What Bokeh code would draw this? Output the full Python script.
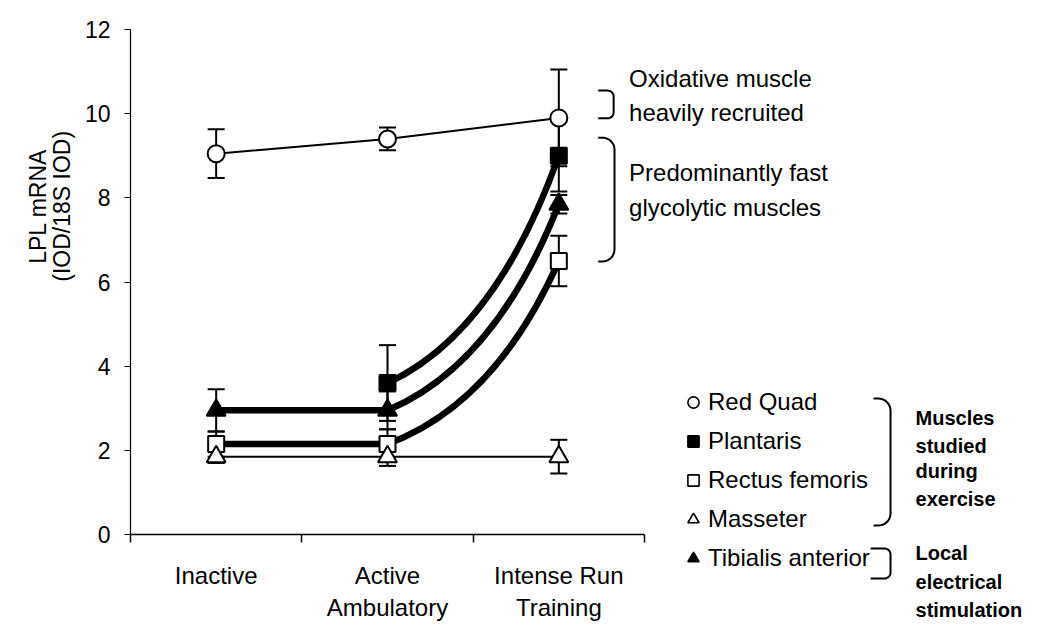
import numpy as np
from bokeh.plotting import figure
from bokeh.models import (Whisker, TeeHead, FixedTicker, Label, Legend,
                          LegendItem, Range1d, ColumnDataSource)
from bokeh.embed import file_html
from bokeh.resources import INLINE

# ---------------- data ----------------
categories = ["Inactive", "Active\nAmbulatory", "Intense Run\nTraining"]
cat_x = [0.5, 1.5, 2.5]

red_quad = [9.05, 9.40, 9.90]
red_quad_err = [0.58, 0.27, 1.15]
plantaris = [np.nan, 3.60, 9.00]
plantaris_err = [np.nan, 0.90, 0.85]
rectus = [2.15, 2.15, 6.50]
rectus_err = [0.30, 0.35, 0.60]
masseter = [1.85, 1.85, 1.85]
masseter_err = [0.15, 0.22, 0.40]
tibialis = [2.95, 2.95, 7.85]
tibialis_err = [0.50, 0.45, 0.22]

legend_names = ["Red Quad", "Plantaris", "Rectus femoris", "Masseter", "Tibialis anterior"]
y_ticks = [0, 2, 4, 6, 8, 10, 12]

# ---------------- figure ----------------
FONT = "Liberation Sans"
W, H = 1050, 637
PXX = 171.33          # pixels per category unit
PXY = 42.08           # pixels per y unit
ORIG_X, ORIG_Y = 130, 534   # pixel position of the data origin

x_range = Range1d(-ORIG_X / PXX, (W - ORIG_X) / PXX)
y_range = Range1d(-(H - ORIG_Y) / PXY, ORIG_Y / PXY)

p = figure(width=W, height=H, x_range=x_range, y_range=y_range,
           output_backend="svg", toolbar_location=None,
           min_border_left=0, min_border_right=0,
           min_border_top=0, min_border_bottom=0)
p.grid.visible = False
p.outline_line_color = None
p.background_fill_color = "white"

xa = p.xaxis[0]
xa.fixed_location = 0
xa.ticker = FixedTicker(ticks=cat_x, minor_ticks=[0, 1, 2, 3])
xa.major_label_overrides = {x: c for x, c in zip(cat_x, categories)}
xa.bounds = (0, 3)
xa.major_tick_out = 0
xa.major_tick_in = 0
xa.minor_tick_out = 8
xa.minor_tick_in = 0
xa.minor_tick_line_width = 1.5
xa.axis_line_width = 1.5
xa.axis_line_color = "black"
xa.minor_tick_line_color = "black"
xa.major_label_text_font = FONT
xa.major_label_text_font_size = "24px"
xa.major_label_text_color = "black"
xa.major_label_standoff = 19

ya = p.yaxis[0]
ya.fixed_location = 0
ya.ticker = FixedTicker(ticks=y_ticks, minor_ticks=[])
ya.bounds = (0, 12)
ya.major_tick_out = 6
ya.major_tick_in = 0
ya.major_tick_line_width = 1.2
ya.axis_line_width = 1.2
ya.axis_line_color = "black"
ya.major_tick_line_color = "black"
ya.major_label_text_font = FONT
ya.major_label_text_font_size = "23px"
ya.major_label_text_color = "black"
ya.major_label_standoff = 14

# ---------------- lines ----------------
p.line(cat_x, red_quad, line_width=2, line_color="black")
p.line(cat_x, masseter, line_width=2, line_color="black")
THICK = 6.5
p.line(cat_x[:2], tibialis[:2], line_width=THICK, line_color="black")
p.line(cat_x[:2], rectus[:2], line_width=THICK, line_color="black")

curve_series = [plantaris, rectus, tibialis]
x0 = [cat_x[1]] * 3
x1 = [cat_x[2]] * 3
y0 = [s[1] for s in curve_series]
y1 = [s[2] for s in curve_series]
cx = [a + 0.63 * (b - a) for a, b in zip(x0, x1)]
cy = [a + 0.22 * (b - a) for a, b in zip(y0, y1)]
p.quadratic(x0=x0, y0=y0, x1=x1, y1=y1, cx=cx, cy=cy,
            line_width=THICK, line_color="black")

# ---------------- error bars ----------------
def add_err(vals, errs):
    xs, up, lo = [], [], []
    for x, v, e in zip(cat_x, vals, errs):
        if np.isnan(v):
            continue
        xs.append(x); up.append(v + e); lo.append(v - e)
    src = ColumnDataSource(dict(x=xs, upper=up, lower=lo))
    w = Whisker(base="x", upper="upper", lower="lower", source=src,
                line_width=2, line_color="black",
                upper_head=TeeHead(size=17, line_width=2, line_color="black"),
                lower_head=TeeHead(size=17, line_width=2, line_color="black"))
    p.add_layout(w)

for v, e in [(red_quad, red_quad_err), (plantaris, plantaris_err), (rectus, rectus_err),
             (masseter, masseter_err), (tibialis, tibialis_err)]:
    add_err(v, e)

# ---------------- markers ----------------
styles = [
    (red_quad, "circle", "white", 17),
    (plantaris, "square", "black", 16),
    (rectus, "square", "white", 16),
    (masseter, "triangle", "white", 19),
    (tibialis, "triangle", "black", 19),
]
for vals, mk, fill, sz in styles:
    xs = [x for x, v in zip(cat_x, vals) if not np.isnan(v)]
    ys = [v for v in vals if not np.isnan(v)]
    p.scatter(xs, ys, marker=mk, size=sz, fill_color=fill,
              line_color="black", line_width=2)

# ---------------- legend ----------------
items = []
for name, (vals, mk, fill, sz) in zip(legend_names, styles):
    r = p.scatter(x=[np.nan], y=[np.nan], marker=mk, size=11, fill_color=fill,
                  line_color="black", line_width=1.6)
    items.append(LegendItem(label=name, renderers=[r]))
legend = Legend(items=items, location=(679, 65), orientation="vertical",
                glyph_width=28, glyph_height=28, label_height=28, label_standoff=1,
                spacing=11, padding=0, margin=0, border_line_color=None,
                background_fill_alpha=0, label_text_font=FONT,
                label_text_font_size="24px", label_text_color="black")
p.add_layout(legend)

# ---------------- brackets ----------------
def bracket(xl, xr, yt, yb, r_px):
    rx = r_px / PXX
    ry = r_px / PXY
    t = np.linspace(0, np.pi / 2, 10)
    top_x = xr - rx + rx * np.sin(t)
    top_y = yt - ry + ry * np.cos(t)
    bot_x = xr - rx + rx * np.cos(t)
    bot_y = yb + ry - ry * np.sin(t)
    xs = [xl] + list(top_x) + list(bot_x) + [xl]
    ys = [yt] + list(top_y) + list(bot_y) + [yb]
    p.line(xs, ys, line_width=2, line_color="black")

bracket(2.73, 2.82, 10.55, 9.89, 6)
bracket(2.73, 2.825, 9.43, 6.49, 12)
bracket(4.337, 4.436, 3.23, 0.214, 12)
bracket(4.32, 4.436, -0.333, -1.046, 6)

# ---------------- texts ----------------
def txt(x, y, s, size="24px", bold=False):
    p.add_layout(Label(x=x, y=y, text=s, text_font=FONT, text_font_size=size,
                       text_font_style="bold" if bold else "normal",
                       text_align="left", text_baseline="middle", text_color="black"))

txt(2.91, 10.84, "Oxidative muscle")
txt(2.91, 10.03, "heavily recruited")
txt(2.91, 8.60, "Predominantly fast")
txt(2.91, 7.77, "glycolytic muscles")

for yy, s in zip([2.78, 2.115, 1.52, 0.855], ["Muscles", "studied", "during", "exercise"]):
    txt(4.582, yy, s, size="20px", bold=True)
for yy, s in zip([-0.45, -1.14, -1.806], ["Local", "electrical", "stimulation"]):
    txt(4.582, yy, s, size="20px", bold=True)

p.add_layout(Label(x=-0.47, y=7.8, text="LPL mRNA\n(IOD/18S IOD)", angle=np.pi / 2,
                   text_font=FONT, text_font_size="23px", text_align="center",
                   text_baseline="middle", text_line_height=0.95, text_color="black"))

open("out.html", "w").write(file_html(p, INLINE))
